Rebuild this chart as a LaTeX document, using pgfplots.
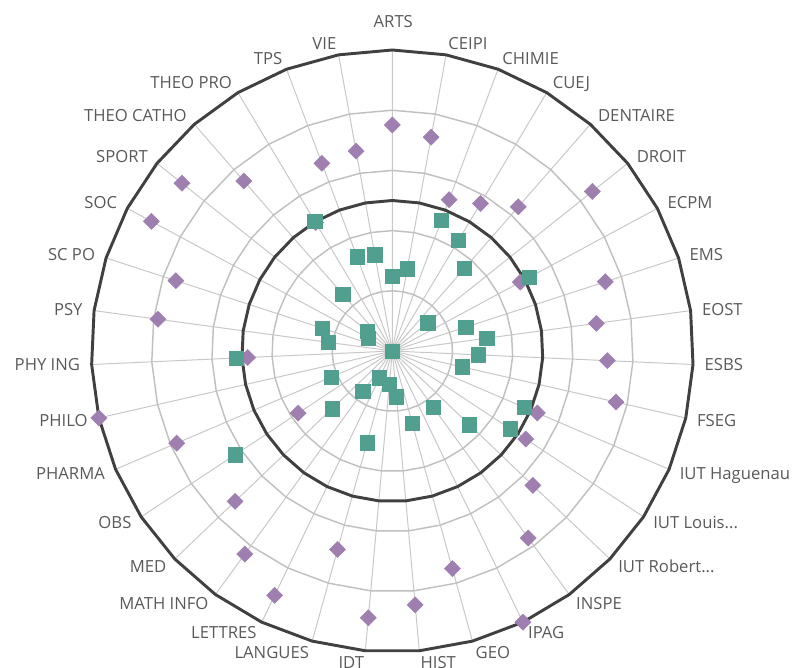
\documentclass[border=0pt]{standalone}
\usepackage{fontspec}
\setmainfont{Open Sans}
\usepackage{pgfplots}
\pgfplotsset{compat=1.18}
\usepackage{pgfplotstable}
\usepgfplotslibrary{polar}

\definecolor{pur}{RGB}{159,126,176}
\definecolor{grn}{RGB}{81,159,143}
\definecolor{darkring}{RGB}{64,64,64}
\definecolor{gridg}{RGB}{192,192,192}
\definecolor{spokeg}{RGB}{200,200,200}
\definecolor{lab}{RGB}{89,89,89}
\newcommand{\tdots}{...}

\pgfplotstableread{
ang purple green
90 0.751 0.249
79.7143 0.722 0.278
69.4286 0.537 0.463
59.1429 0.571 0.429
48.8571 0.636 0.364
38.5714 0.850 0.150
28.2857 0.483 0.517
18 0.744 0.256
7.7143 0.684 0.316
357.4286 0.715 0.285
347.1429 0.762 0.238
336.8571 0.524 0.476
326.5714 0.531 0.469
316.2857 0.646 0.354
306 0.768 0.232
295.7143 1.000 0.000
285.4286 0.750 0.250
275.1429 0.847 0.153
264.8571 0.890 0.110
254.5714 0.684 0.316
244.2857 0.901 0.099
234 0.834 0.166
223.7143 0.723 0.277
213.4286 0.375 0.625
203.1429 0.779 0.221
192.8571 1.000 0.000
182.5714 0.481 0.519
172.2857 0.786 0.214
162 0.756 0.244
151.7143 0.909 0.091
141.4286 0.894 0.106
131.1429 0.750 0.250
120.8571 0.497 0.503
110.5714 0.666 0.334
100.2857 0.675 0.325
}\data

\pgfplotstableread{
ang one
90 1
79.7143 1
69.4286 1
59.1429 1
48.8571 1
38.5714 1
28.2857 1
18 1
7.7143 1
357.4286 1
347.1429 1
336.8571 1
326.5714 1
316.2857 1
306 1
295.7143 1
285.4286 1
275.1429 1
264.8571 1
254.5714 1
244.2857 1
234 1
223.7143 1
213.4286 1
203.1429 1
192.8571 1
182.5714 1
172.2857 1
162 1
151.7143 1
141.4286 1
131.1429 1
120.8571 1
110.5714 1
100.2857 1
90 1
}\rings

\begin{document}
\begin{tikzpicture}
\begin{polaraxis}[
  scale only axis, width=451.5pt, height=451.5pt,
  xmin=0, xmax=360, ymin=0, ymax=1,
  clip=false,
  axis line style={draw=none},
  grid=none,
  major tick length=0pt,
  ytick=\empty,
  xtick={90,79.7143,69.4286,59.1429,48.8571,38.5714,28.2857,18,7.7143,357.4286,347.1429,336.8571,326.5714,316.2857,306,295.7143,285.4286,275.1429},
  xticklabels={{\makebox[0pt][c]{\raisebox{12.75pt}{ARTS}}},CEIPI,CHIMIE,CUEJ,DENTAIRE,DROIT,ECPM,EMS,EOST,ESBS,FSEG,IUT Haguenau,IUT Louis\tdots,IUT Robert\tdots,INSPE,IPAG,GEO,HIST},
  extra x ticks={264.8571,254.5714,244.2857,234,223.7143,213.4286,203.1429,192.8571,182.5714,172.2857,162,151.7143,141.4286,131.1429,120.8571,110.5714,100.2857},
  extra x tick labels={IDT,LANGUES,LETTRES,MATH INFO,MED,OBS,PHARMA,PHILO,PHY ING,PSY,SC PO,SOC,SPORT,THEO CATHO,THEO PRO,TPS,VIE},
  xticklabel style={anchor=west, inner sep=0pt, text height=8.9pt, text depth=0pt,
    font=\fontsize{12.5}{15}\selectfont, text=lab,
    xshift={8.5pt*cos(\tick)}, yshift={8.5pt*sin(\tick)}},
  extra x tick style={xticklabel style={anchor=east}},
]
\addplot[spokeg, line width=0.75pt, polar comb, mark=none] table[x=ang, y=one] {\rings};
\addplot[gridg, line width=1.1pt, mark=none] table[x=ang, y expr=0.2] {\rings};
\addplot[gridg, line width=1.1pt, mark=none] table[x=ang, y expr=0.4] {\rings};
\addplot[gridg, line width=1.1pt, mark=none] table[x=ang, y expr=0.6] {\rings};
\addplot[gridg, line width=1.1pt, mark=none] table[x=ang, y expr=0.8] {\rings};
\addplot[darkring, line width=2.2pt, line join=round, mark=none] table[x=ang, y expr=0.5] {\rings};
\addplot[darkring, line width=2.2pt, line join=round, mark=none] table[x=ang, y=one] {\rings};
\addplot[only marks, mark=square*, mark size=4.25pt, mark options={rotate=45, fill=pur, draw=pur}] table[x=ang, y=purple] {\data};
\addplot[only marks, mark=square*, mark size=5.4pt, mark options={fill=grn, draw=grn}] table[x=ang, y=green] {\data};
\coordinate (C) at (axis cs:0,0);
\end{polaraxis}
\pgfresetboundingbox
\path[use as bounding box] ([shift={(-294.25pt,-237pt)}]C) rectangle ([shift={(307.25pt,263.25pt)}]C);
\end{tikzpicture}
\end{document}
